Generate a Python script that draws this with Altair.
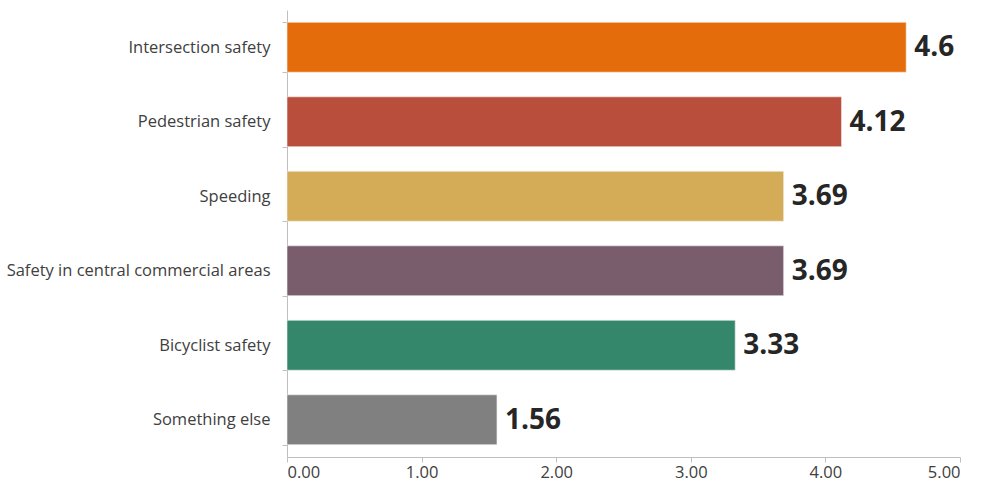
import altair as alt
import pandas as pd

# Survey categories and their average scores
categories = [
    "Intersection safety",
    "Pedestrian safety",
    "Speeding",
    "Safety in central commercial areas",
    "Bicyclist safety",
    "Something else",
]
scores = [4.6, 4.12, 3.69, 3.69, 3.33, 1.56]
labels = ["4.6", "4.12", "3.69", "3.69", "3.33", "1.56"]
colors = ["#E46C0A", "#B94E3C", "#D4AB57", "#7A5D6C", "#34876B", "#808080"]

df = pd.DataFrame({"category": categories, "score": scores, "label": labels})

FONT = "Open Sans"

y_enc = alt.Y(
    "category:N",
    sort=categories,
    title=None,
    scale=alt.Scale(paddingInner=0.33, paddingOuter=0.165),
    axis=alt.Axis(
        tickBand="extent",
        domainColor="#BFBFBF",
        tickColor="#BFBFBF",
        tickSize=5,
        labelPadding=12,
        labelFont=FONT,
        labelFontSize=16.5,
        labelColor="#404040",
        labelLimit=400,
    ),
)

x_enc = alt.X(
    "score:Q",
    title=None,
    scale=alt.Scale(domain=[0, 5], nice=False),
    axis=alt.Axis(
        values=[0, 1, 2, 3, 4, 5],
        format=".2f",
        grid=False,
        domainColor="#BFBFBF",
        tickColor="#BFBFBF",
        tickSize=5,
        labelPadding=2,
        labelFont=FONT,
        labelFontSize=16.5,
        labelColor="#404040",
    ),
)

bars = alt.Chart(df).mark_bar(
    stroke="#F2F2F2", strokeWidth=1, strokeOpacity=0.6
).encode(
    x=x_enc,
    y=y_enc,
    color=alt.Color(
        "category:N",
        scale=alt.Scale(domain=categories, range=colors),
        legend=None,
    ),
)

text = alt.Chart(df).mark_text(
    align="left",
    baseline="middle",
    dx=8,
    dy=1,
    font=FONT,
    fontSize=28,
    fontWeight="bold",
    color="#262626",
).encode(
    x="score:Q",
    y=alt.Y("category:N", sort=categories),
    text="label:N",
)

chart = (
    alt.layer(bars, text)
    .properties(
        width=673,
        height=447,
        padding={"left": 287, "top": 10, "right": 24, "bottom": 36},
        autosize=alt.AutoSizeParams(type="none"),
        background="white",
    )
    .configure_view(stroke=None)
)

chart.save("out.html", embed_options={"renderer": "svg", "actions": False})
